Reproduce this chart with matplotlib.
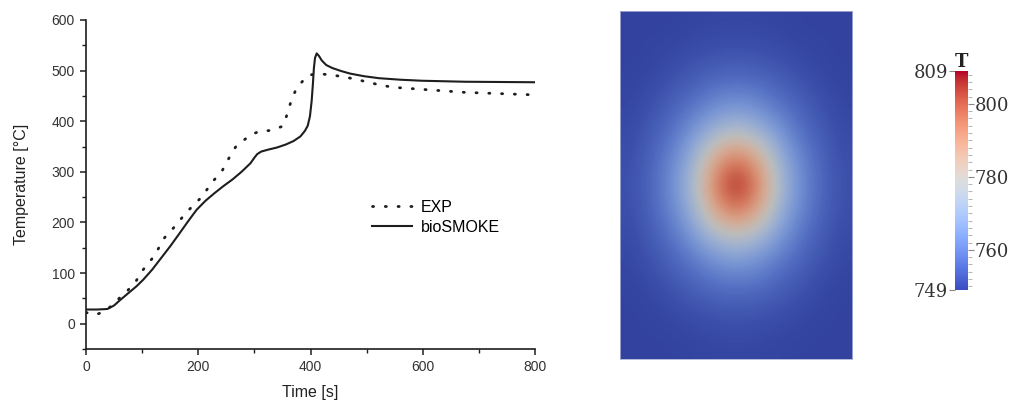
import numpy as np
import matplotlib
matplotlib.use("Agg")
import matplotlib.pyplot as plt
from matplotlib.colors import ListedColormap
from matplotlib.ticker import MultipleLocator

# temperature history
exp_time = [0, 18, 35, 57, 73, 89, 102, 121, 140, 159, 178, 204, 229, 242, 258, 267,
            293, 309, 331, 350, 356, 366, 375, 385, 395, 410, 433, 458, 484, 522,
            547, 611, 675, 800]
exp_temp = [22, 18, 25, 48, 64, 84, 107, 133, 170, 193, 219, 248, 285, 301, 334, 350,
            373, 380, 382, 390, 406, 442, 465, 478, 490, 494, 492, 488, 482, 472,
            467, 462, 457, 452]

sim_time = [0, 20, 38, 50, 60, 76, 90, 102, 118, 134, 150, 165, 181, 197, 213, 229,
            245, 261, 277, 293, 300, 305, 312, 325, 340, 356, 370, 382, 390, 395,
            399, 402, 404, 406, 408, 411, 415, 420, 428, 439, 455, 471, 495, 522,
            560, 598, 675, 800]
sim_temp = [28, 28, 29, 36, 46, 61, 74, 87, 107, 130, 153, 176, 201, 225, 243, 258,
            272, 285, 300, 317, 328, 335, 340, 344, 348, 354, 361, 370, 381, 391,
            410, 440, 470, 505, 525, 534, 529, 520, 511, 505, 499, 494, 489, 485,
            482, 480, 478, 477]

# temperature field (K): one quarter, starting at the hot
# spot (row 0 = centre row, col 0 = centre column); the field is mirror symmetric
quarter = np.array([
    [809.0, 796.1, 776.0, 763.5, 756.1, 752.3],
    [796.6, 788.2, 772.3, 761.9, 755.6, 752.0],
    [776.8, 772.8, 765.5, 757.9, 754.2, 751.2],
    [764.2, 762.5, 758.1, 755.3, 752.4, 750.7],
    [756.5, 756.0, 754.5, 752.5, 750.9, 750.2],
    [752.6, 752.3, 751.5, 750.8, 750.3, 750.0],
    [750.7, 750.6, 750.4, 750.1, 750.0, 750.0],
])
half = np.hstack([quarter[:, :0:-1], quarter])
field = np.vstack([half[:0:-1], half])
t_min, t_max = 749, 809

fig = plt.figure(figsize=(10.11, 4.03), dpi=100)

# left: temperature vs time
ax = fig.add_axes([0.0851, 0.134, 0.4441, 0.8164])
ink = "#1e1e1e"
ax.plot(exp_time, exp_temp, color=ink, lw=2.0, linestyle=(0, (0.4, 4.2)),
        dash_capstyle="round", label="EXP")
ax.plot(sim_time, sim_temp, color=ink, lw=1.5, label="bioSMOKE")
ax.set_xlim(0, 800)
ax.set_ylim(-50, 600)
ax.xaxis.set_major_locator(MultipleLocator(200))
ax.xaxis.set_minor_locator(MultipleLocator(100))
ax.yaxis.set_major_locator(MultipleLocator(100))
ax.yaxis.set_minor_locator(MultipleLocator(50))
for side in ("top", "right"):
    ax.spines[side].set_visible(False)
for side in ("left", "bottom"):
    ax.spines[side].set_linewidth(1.2)
    ax.spines[side].set_color(ink)
ax.tick_params(which="major", length=4.5, width=1.1, color=ink, labelsize=10,
               labelcolor="#333333")
ax.tick_params(which="minor", length=3, width=1.0, color=ink)
for lab in ax.get_xticklabels() + ax.get_yticklabels():
    lab.set_family("Liberation Sans")
ax.set_xlabel("Time [s]", fontsize=11.5, family="Liberation Sans", color="#222222",
              labelpad=8)
ax.set_ylabel("Temperature [°C]", fontsize=11.5, family="Liberation Sans",
              color="#222222", labelpad=16)
ax.legend(loc="center left", bbox_to_anchor=(0.636, 0.40), frameon=False,
          borderpad=0, borderaxespad=0, handlelength=2.5, handletextpad=0.6,
          labelspacing=0.3, prop={"family": "Liberation Sans", "size": 11.5})

# right: temperature field with colour bar
base = plt.get_cmap("coolwarm")(np.linspace(0, 1, 256))
shaded = base.copy()
shaded[:, :3] *= np.linspace(0.8, 0.9, 256)[:, None]
field_cmap = ListedColormap(shaded)

axi = fig.add_axes([0.6133, 0.1092, 0.2295, 0.8635])
axi.imshow(field, cmap=field_cmap, vmin=t_min, vmax=t_max, aspect="auto",
           interpolation="bicubic")
axi.set_xticks([])
axi.set_yticks([])
for sp in axi.spines.values():
    sp.set_color("#a9afd6")
    sp.set_linewidth(0.6)

cax = fig.add_axes([0.9446, 0.2804, 0.0125, 0.5434])
sm = plt.cm.ScalarMappable(cmap="coolwarm", norm=plt.Normalize(t_min, t_max))
cb = fig.colorbar(sm, cax=cax)
cb.outline.set_visible(False)
serif = "DejaVu Serif"
cax.yaxis.set_ticks([760, 780, 800])
cax.yaxis.set_minor_locator(MultipleLocator(2))
cax.tick_params(which="major", length=4, width=0.8, color="#888888", pad=1,
                labelsize=13, labelcolor="#333333")
cax.tick_params(which="minor", length=3, width=0.6, color="#aaaaaa")
for lab in cax.get_yticklabels():
    lab.set_family(serif)
sec = cax.secondary_yaxis("left")
sec.set_yticks([t_min, t_max])
sec.spines["left"].set_visible(False)
sec.tick_params(length=4, width=0.8, color="#888888", pad=1, labelsize=13,
                labelcolor="#333333")
for lab in sec.get_yticklabels():
    lab.set_family(serif)
cax.set_title("T", fontsize=13, family=serif, fontweight="bold", color="#222222",
              pad=3)

fig.savefig("out.png", dpi=100)
